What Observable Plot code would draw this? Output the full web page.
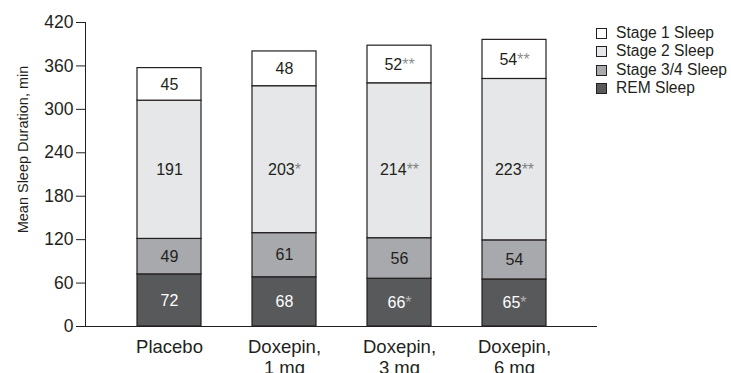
<!DOCTYPE html>
<html>
<head>
<meta charset="utf-8">
<script src="https://cdn.jsdelivr.net/npm/d3@7"></script>
<script src="https://cdn.jsdelivr.net/npm/@observablehq/plot@0.6"></script>
<style>
  html, body { margin: 0; padding: 0; background: #fff; }
  #wrap { position: relative; width: 731px; height: 373px; font-family: "Liberation Sans", Arial, sans-serif; color: #231f20; }
  #legend { position: absolute; left: 596px; top: 24px; font-size: 15.6px; line-height: 18.4px; }
  #legend .row { display: flex; align-items: center; white-space: nowrap; }
  #legend .sw { width: 9px; height: 9px; border: 1px solid #231f20; margin-right: 9px; flex: none; }
</style>
</head>
<body>
<div id="wrap"><div id="legend"></div></div>
<script>
// Sleep architecture by treatment group (minutes)
const groups = ["Placebo", "Doxepin, 1 mg", "Doxepin, 3 mg", "Doxepin, 6 mg"];
const stages = ["REM Sleep", "Stage 3/4 Sleep", "Stage 2 Sleep", "Stage 1 Sleep"];
const stageColors = ["#58595b", "#a7a9ac", "#e6e7e8", "#ffffff"];

const remSleep     = [72, 68, 66, 65];
const stage34Sleep = [49, 61, 56, 54];
const stage2Sleep  = [191, 203, 214, 223];
const stage1Sleep  = [45, 48, 52, 54];

// significance markers vs placebo
const remStars     = ["", "", "*", "*"];
const stage34Stars = ["", "", "", ""];
const stage2Stars  = ["", "*", "**", "**"];
const stage1Stars  = ["", "", "**", "**"];

const yTicks = [0, 60, 120, 180, 240, 300, 360, 420];
const yTitle = "Mean Sleep Duration, min";

const series = [
  [remSleep, remStars],
  [stage34Sleep, stage34Stars],
  [stage2Sleep, stage2Stars],
  [stage1Sleep, stage1Stars]
];

const ink = "#231f20";
const font = "'Liberation Sans', Arial, sans-serif";

// long format: stacked bottom (REM) to top (Stage 1), with segment extents
const rows = [];
groups.forEach((g, gi) => {
  let base = 0;
  series.forEach(([vals, stars], si) => {
    const v = vals[gi];
    rows.push({
      group: g,
      stage: stages[si],
      color: stageColors[si],
      textColor: si === 0 ? "#ffffff" : ink,
      value: v,
      mid: base + v / 2,
      label: v + stars[gi]
    });
    base += v;
  });
});

// the tall Stage 2 labels share one common level (the lowest segment midpoint)
const stage2Rows = rows.filter(d => d.stage === "Stage 2 Sleep");
const stage2Level = d3.min(stage2Rows, d => d.mid);
const otherRows = rows.filter(d => d.stage !== "Stage 2 Sleep");

const chart = Plot.plot({
  width: 731,
  height: 373,
  marginTop: 22,
  marginBottom: 47,
  marginLeft: 85,
  marginRight: 134,
  style: {fontFamily: font, fontSize: "17.5px", color: ink, background: "transparent"},
  x: {domain: groups, padding: 0.445, label: null},
  y: {domain: [0, 420], ticks: yTicks, tickSize: 9, tickPadding: 3, line: true, label: null},
  color: {type: "identity"},
  marks: [
    Plot.barY(rows, Plot.stackY({x: "group", y: "value", fill: "color", stroke: ink, strokeWidth: 1.2})),
    Plot.text(otherRows, {x: "group", y: "mid", text: "label", fill: "textColor", fontSize: 16}),
    Plot.text(stage2Rows, {x: "group", y: () => stage2Level, text: "label", fill: "textColor", fontSize: 16}),
    Plot.ruleY([0], {stroke: ink, strokeWidth: 1.2}),
    Plot.axisX({tickSize: 0, tickPadding: 11, fontSize: 18.5, lineHeight: 1.15, label: null,
      tickFormat: d => d.replace(", ", ",\n")}),
    Plot.text([yTitle], {frameAnchor: "left", text: d => d, rotate: -90, textAnchor: "middle",
      dx: -62, dy: -25, fontSize: 14.5, fill: ink})
  ]
});

// render significance asterisks as lighter tspans
d3.select(chart).selectAll("text").each(function() {
  if (this.childElementCount) return;
  const m = /^(\d+)(\*+)$/.exec(this.textContent);
  if (!m) return;
  const t = d3.select(this);
  t.text(null);
  t.append("tspan").text(m[1]);
  t.append("tspan").attr("fill-opacity", 0.55).text(m[2]);
});

const wrap = document.getElementById("wrap");
wrap.insertBefore(chart, wrap.firstChild);

// legend, top entry first
const legend = d3.select("#legend");
[...stages].reverse().forEach((s, i) => {
  const c = [...stageColors].reverse()[i];
  const row = legend.append("div").attr("class", "row");
  row.append("span").attr("class", "sw").style("background", c);
  row.append("span").text(s);
});
</script>
</body>
</html>
